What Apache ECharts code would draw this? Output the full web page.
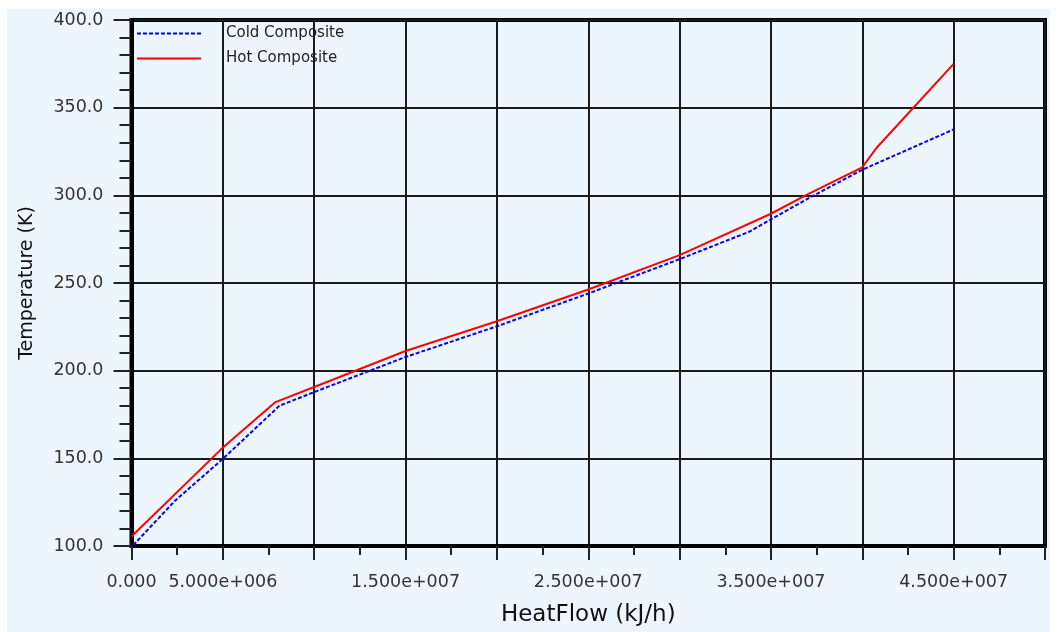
<!DOCTYPE html>
<html>
<head>
<meta charset="utf-8">
<script src="https://cdn.jsdelivr.net/npm/echarts@6/dist/echarts.min.js"></script>
<style>
  html, body { margin: 0; padding: 0; background: #ffffff; }
  #chart { width: 1059px; height: 632px; }
</style>
</head>
<body>
<div id="chart"></div>
<script>
// Composite curves: heat flow (kJ/h) vs temperature (K)
const coldHeatFlow = [1.0e5, 2.4e6, 4.93e6, 8.1e6, 1.0e7, 1.5e7, 2.0e7, 2.5e7, 3.0e7, 3.38e7, 3.5e7, 3.7e7, 4.0e7, 4.5e7];
const coldTemp     = [100.5, 126.0, 149.0, 180.0, 187.8, 207.8, 225.3, 244.0, 263.6, 279.2, 286.3, 298.0, 314.6, 337.6];

const hotHeatFlow = [0, 4.93e6, 7.85e6, 1.0e7, 1.5e7, 2.0e7, 2.5e7, 3.0e7, 3.5e7, 3.7e7, 4.0e7, 4.08e7, 4.5e7];
const hotTemp     = [105.4, 155.4, 181.9, 190.7, 211.2, 228.2, 246.3, 265.9, 289.5, 300.5, 316.0, 327.3, 375.0];

const seriesNames = ['Cold Composite', 'Hot Composite'];

// Heat-flow values that carry a tick label
const xLabelledTicks = [0, 5e6, 1.5e7, 2.5e7, 3.5e7, 4.5e7];

function sci(v) {
  if (v === 0) return '0.000';
  const e = Math.floor(Math.log10(Math.abs(v)));
  const m = v / Math.pow(10, e);
  return m.toFixed(3) + 'e' + (e >= 0 ? '+' : '-') + String(Math.abs(e)).padStart(3, '0');
}

const zip = (xs, ys) => xs.map((x, i) => [x, ys[i]]);

const labelFont = { fontFamily: 'DejaVu Sans', fontSize: 17.5, color: '#333333' };

const chart = echarts.init(document.getElementById('chart'), null, { renderer: 'canvas' });

chart.setOption({
  animation: false,
  backgroundColor: '#ffffff',
  graphic: [{
    type: 'rect',
    z: -10,
    shape: { x: 7, y: 9, width: 1043, height: 623 },
    style: { fill: '#eef6fd' },
    silent: true
  }],
  grid: {
    left: 131.5, right: 14, top: 20, bottom: 82.5,
    show: true,
    backgroundColor: 'transparent',
    borderColor: '#000000',
    borderWidth: 4
  },
  legend: {
    orient: 'vertical',
    left: 131, top: 21,
    itemWidth: 64, itemHeight: 14, itemGap: 10,
    itemStyle: { opacity: 0 },
    textStyle: { fontFamily: 'DejaVu Sans', fontSize: 15, color: '#222222', padding: [0, 0, 0, 20] },
    data: seriesNames
  },
  xAxis: {
    type: 'value',
    min: 0, max: 5e7, interval: 5e6,
    name: 'HeatFlow (kJ/h)',
    nameLocation: 'middle',
    nameGap: 58,
    nameTextStyle: { fontFamily: 'DejaVu Sans', fontSize: 23, color: '#111111' },
    axisLine: { show: true, onZero: false, lineStyle: { color: '#000000', width: 4 } },
    axisTick: { show: true, length: 14, lineStyle: { color: '#222222', width: 2 } },
    minorTick: { show: true, splitNumber: 2, length: 9, lineStyle: { color: '#222222', width: 2 } },
    axisLabel: Object.assign({
      margin: 27,
      showMaxLabel: false,
      formatter: v => (xLabelledTicks.indexOf(v) >= 0 ? sci(v) : '')
    }, labelFont),
    splitLine: { show: true, lineStyle: { color: '#1a1a1a', width: 2 } }
  },
  yAxis: {
    type: 'value',
    min: 100, max: 400, interval: 50,
    name: 'Temperature (K)',
    nameLocation: 'middle',
    nameGap: 95,
    nameTextStyle: { fontFamily: 'DejaVu Sans', fontSize: 19, color: '#111111' },
    axisLine: { show: true, onZero: false, lineStyle: { color: '#000000', width: 4 } },
    axisTick: { show: true, length: 18, lineStyle: { color: '#222222', width: 2 } },
    minorTick: { show: true, splitNumber: 5, length: 12, lineStyle: { color: '#222222', width: 2 } },
    axisLabel: Object.assign({
      margin: 28,
      formatter: v => v.toFixed(1)
    }, labelFont),
    splitLine: { show: true, lineStyle: { color: '#1a1a1a', width: 2 } }
  },
  series: [
    {
      name: seriesNames[0],
      type: 'line',
      data: zip(coldHeatFlow, coldTemp),
      symbol: 'none',
      lineStyle: { color: '#0000ff', width: 2, type: [4, 2] },
      itemStyle: { color: '#0000ff' },
      z: 3
    },
    {
      name: seriesNames[1],
      type: 'line',
      data: zip(hotHeatFlow, hotTemp),
      symbol: 'none',
      lineStyle: { color: '#ff0000', width: 2 },
      itemStyle: { color: '#ff0000' },
      z: 4
    }
  ]
});
</script>
</body>
</html>
